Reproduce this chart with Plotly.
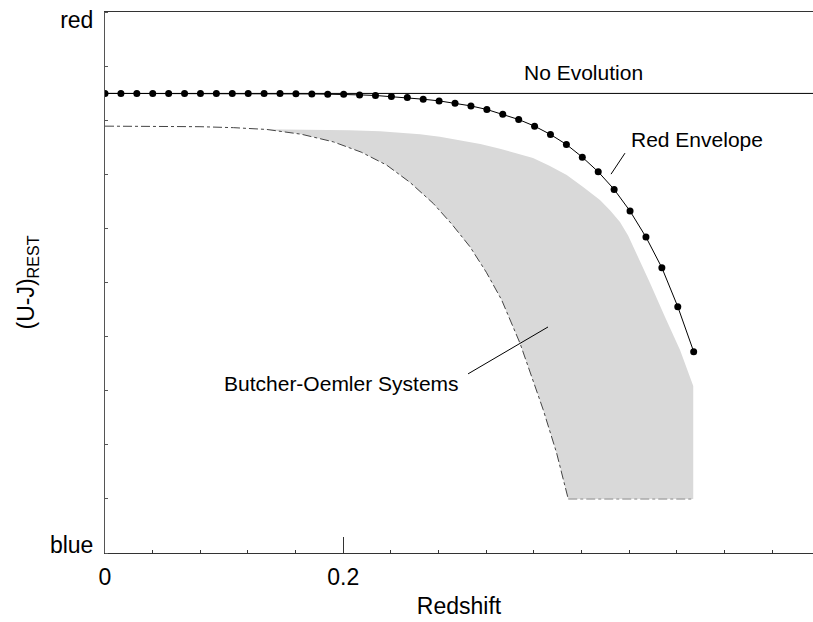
import plotly.graph_objects as go

# ---- data ----
z_step = 0.013353
red_env_y = [0.8495, 0.8495, 0.8495, 0.8495, 0.8495, 0.8495, 0.8495, 0.8495, 0.8495, 0.8494,
             0.8494, 0.8492, 0.8489, 0.8485, 0.8481, 0.8478, 0.8468, 0.8457, 0.8438, 0.8420,
             0.8388, 0.8357, 0.8315, 0.8264, 0.8198, 0.8111, 0.8013, 0.7890, 0.7736, 0.7552,
             0.7317, 0.7046, 0.6721, 0.6320, 0.5840, 0.5273, 0.4553, 0.3722]
red_env_x = [round(i * z_step, 5) for i in range(len(red_env_y))]

no_evo_x = [0.0, 0.5942]
no_evo_y = [0.8495, 0.8495]

bo_upper_x = [0.1326, 0.1600, 0.1804, 0.2050, 0.2308, 0.2480, 0.2644, 0.2810, 0.2980, 0.3150,
              0.3315, 0.3450, 0.3592, 0.3730, 0.3875, 0.4010, 0.4154, 0.4240, 0.4322, 0.4390,
              0.4448, 0.4574, 0.4700, 0.4826, 0.4937]
bo_upper_y = [0.7834, 0.7830, 0.7825, 0.7815, 0.7797, 0.7775, 0.7742, 0.7695, 0.7631, 0.7560,
              0.7474, 0.7392, 0.7299, 0.7160, 0.6985, 0.6770, 0.6523, 0.6330, 0.6117, 0.5870,
              0.5600, 0.4991, 0.4363, 0.3754, 0.3089]

bo_lower_x = [0.0, 0.0400, 0.0797, 0.1080, 0.1357, 0.1650, 0.1916, 0.2150, 0.2364, 0.2560,
              0.2755, 0.2910, 0.3063, 0.3200, 0.3329, 0.3483, 0.3678, 0.3790, 0.3888]
bo_lower_y = [0.7890, 0.7890, 0.7880, 0.7862, 0.7829, 0.7740, 0.7600, 0.7410, 0.7170, 0.6850,
              0.6462, 0.6080, 0.5661, 0.5190, 0.4677, 0.3877, 0.2646, 0.1850, 0.0997]

bo_floor_y = 0.0997

x_tick_vals = [0, 0.2]
x_tick_text = ["0", "0.2"]
y_tick_vals = [0.015, 0.985]
y_tick_text = ["blue", "red"]

FONT = "Liberation Sans, Arial, Helvetica, sans-serif"

fig = go.Figure()

# gray Butcher-Oemler region (upper edge, right edge, floor, back up the dash-dot edge)
poly_x = bo_upper_x + [bo_upper_x[-1], bo_lower_x[-1]] + bo_lower_x[::-1][:-4]
poly_y = bo_upper_y + [bo_floor_y, bo_floor_y] + bo_lower_y[::-1][:-4]
fig.add_trace(go.Scatter(x=poly_x, y=poly_y, mode="lines", fill="toself",
                         fillcolor="#d9d9d9", line=dict(width=0),
                         hoverinfo="skip", showlegend=False))

# dash-dot lower boundary
fig.add_trace(go.Scatter(x=bo_lower_x, y=bo_lower_y, mode="lines",
                         line=dict(color="#444444", width=1, dash="dashdot"),
                         showlegend=False))
fig.add_trace(go.Scatter(x=[bo_lower_x[-1], bo_upper_x[-1]], y=[bo_floor_y, bo_floor_y], mode="lines",
                         line=dict(color="#8a8a8a", width=1, dash="dashdot"),
                         showlegend=False))

# no evolution line
fig.add_trace(go.Scatter(x=no_evo_x, y=no_evo_y, mode="lines",
                         line=dict(color="black", width=1), showlegend=False))

# red envelope
fig.add_trace(go.Scatter(x=red_env_x, y=red_env_y, mode="lines+markers",
                         line=dict(color="black", width=1),
                         marker=dict(color="black", size=7), showlegend=False))

# annotations
fig.add_annotation(x=0.402, y=0.8887, text="No Evolution", showarrow=False,
                   font=dict(size=21, color="black", family=FONT), xanchor="center", yanchor="middle")
fig.add_annotation(x=0.497, y=0.7640, text="Red Envelope", showarrow=False,
                   font=dict(size=21, color="black", family=FONT), xanchor="center", yanchor="middle")
fig.add_annotation(x=0.1985, y=0.3126, text="Butcher-Oemler Systems", showarrow=False,
                   font=dict(size=21, color="black", family=FONT), xanchor="center", yanchor="middle")
fig.add_shape(type="line", x0=0.4364, y0=0.7391, x1=0.4247, y1=0.7003,
              line=dict(color="black", width=1))
fig.add_shape(type="line", x0=0.3047, y0=0.3311, x1=0.3718, y1=0.4178,
              line=dict(color="black", width=1))

fig.update_layout(
    width=813, height=622,
    margin=dict(l=105, r=0, t=12, b=69, autoexpand=False),
    paper_bgcolor="white", plot_bgcolor="white",
    font=dict(family=FONT, size=23, color="black"),
    xaxis=dict(range=[0, 0.5942], showgrid=False, zeroline=False, automargin=False,
               showline=True, linecolor="#333333", linewidth=1, mirror=True,
               tickmode="array", tickvals=x_tick_vals, ticktext=x_tick_text,
               ticks="inside", ticklen=16, tickcolor="#333333", tickwidth=1,
               ticklabelstandoff=3,
               minor=dict(ticks="inside", ticklen=3, dtick=0.04, tick0=0, tickcolor="#333333"),
               title=dict(text="Redshift", standoff=9, font=dict(size=23))),
    yaxis=dict(range=[0, 1], showgrid=False, zeroline=False, automargin=False,
               showline=True, linecolor="#555555", linewidth=1,
               tickmode="array", tickvals=y_tick_vals, ticktext=y_tick_text,
               ticks="", ticklabelstandoff=6,
               minor=dict(ticks="inside", ticklen=3, dtick=0.1, tick0=0, tickcolor="#555555"),
               title=dict(text="(U-J)<sub>REST</sub>", standoff=8, font=dict(size=23))),
)

fig.write_html("out.html", config={"displayModeBar": False},
               post_script="document.body.style.margin='0';document.body.style.overflow='hidden';")
